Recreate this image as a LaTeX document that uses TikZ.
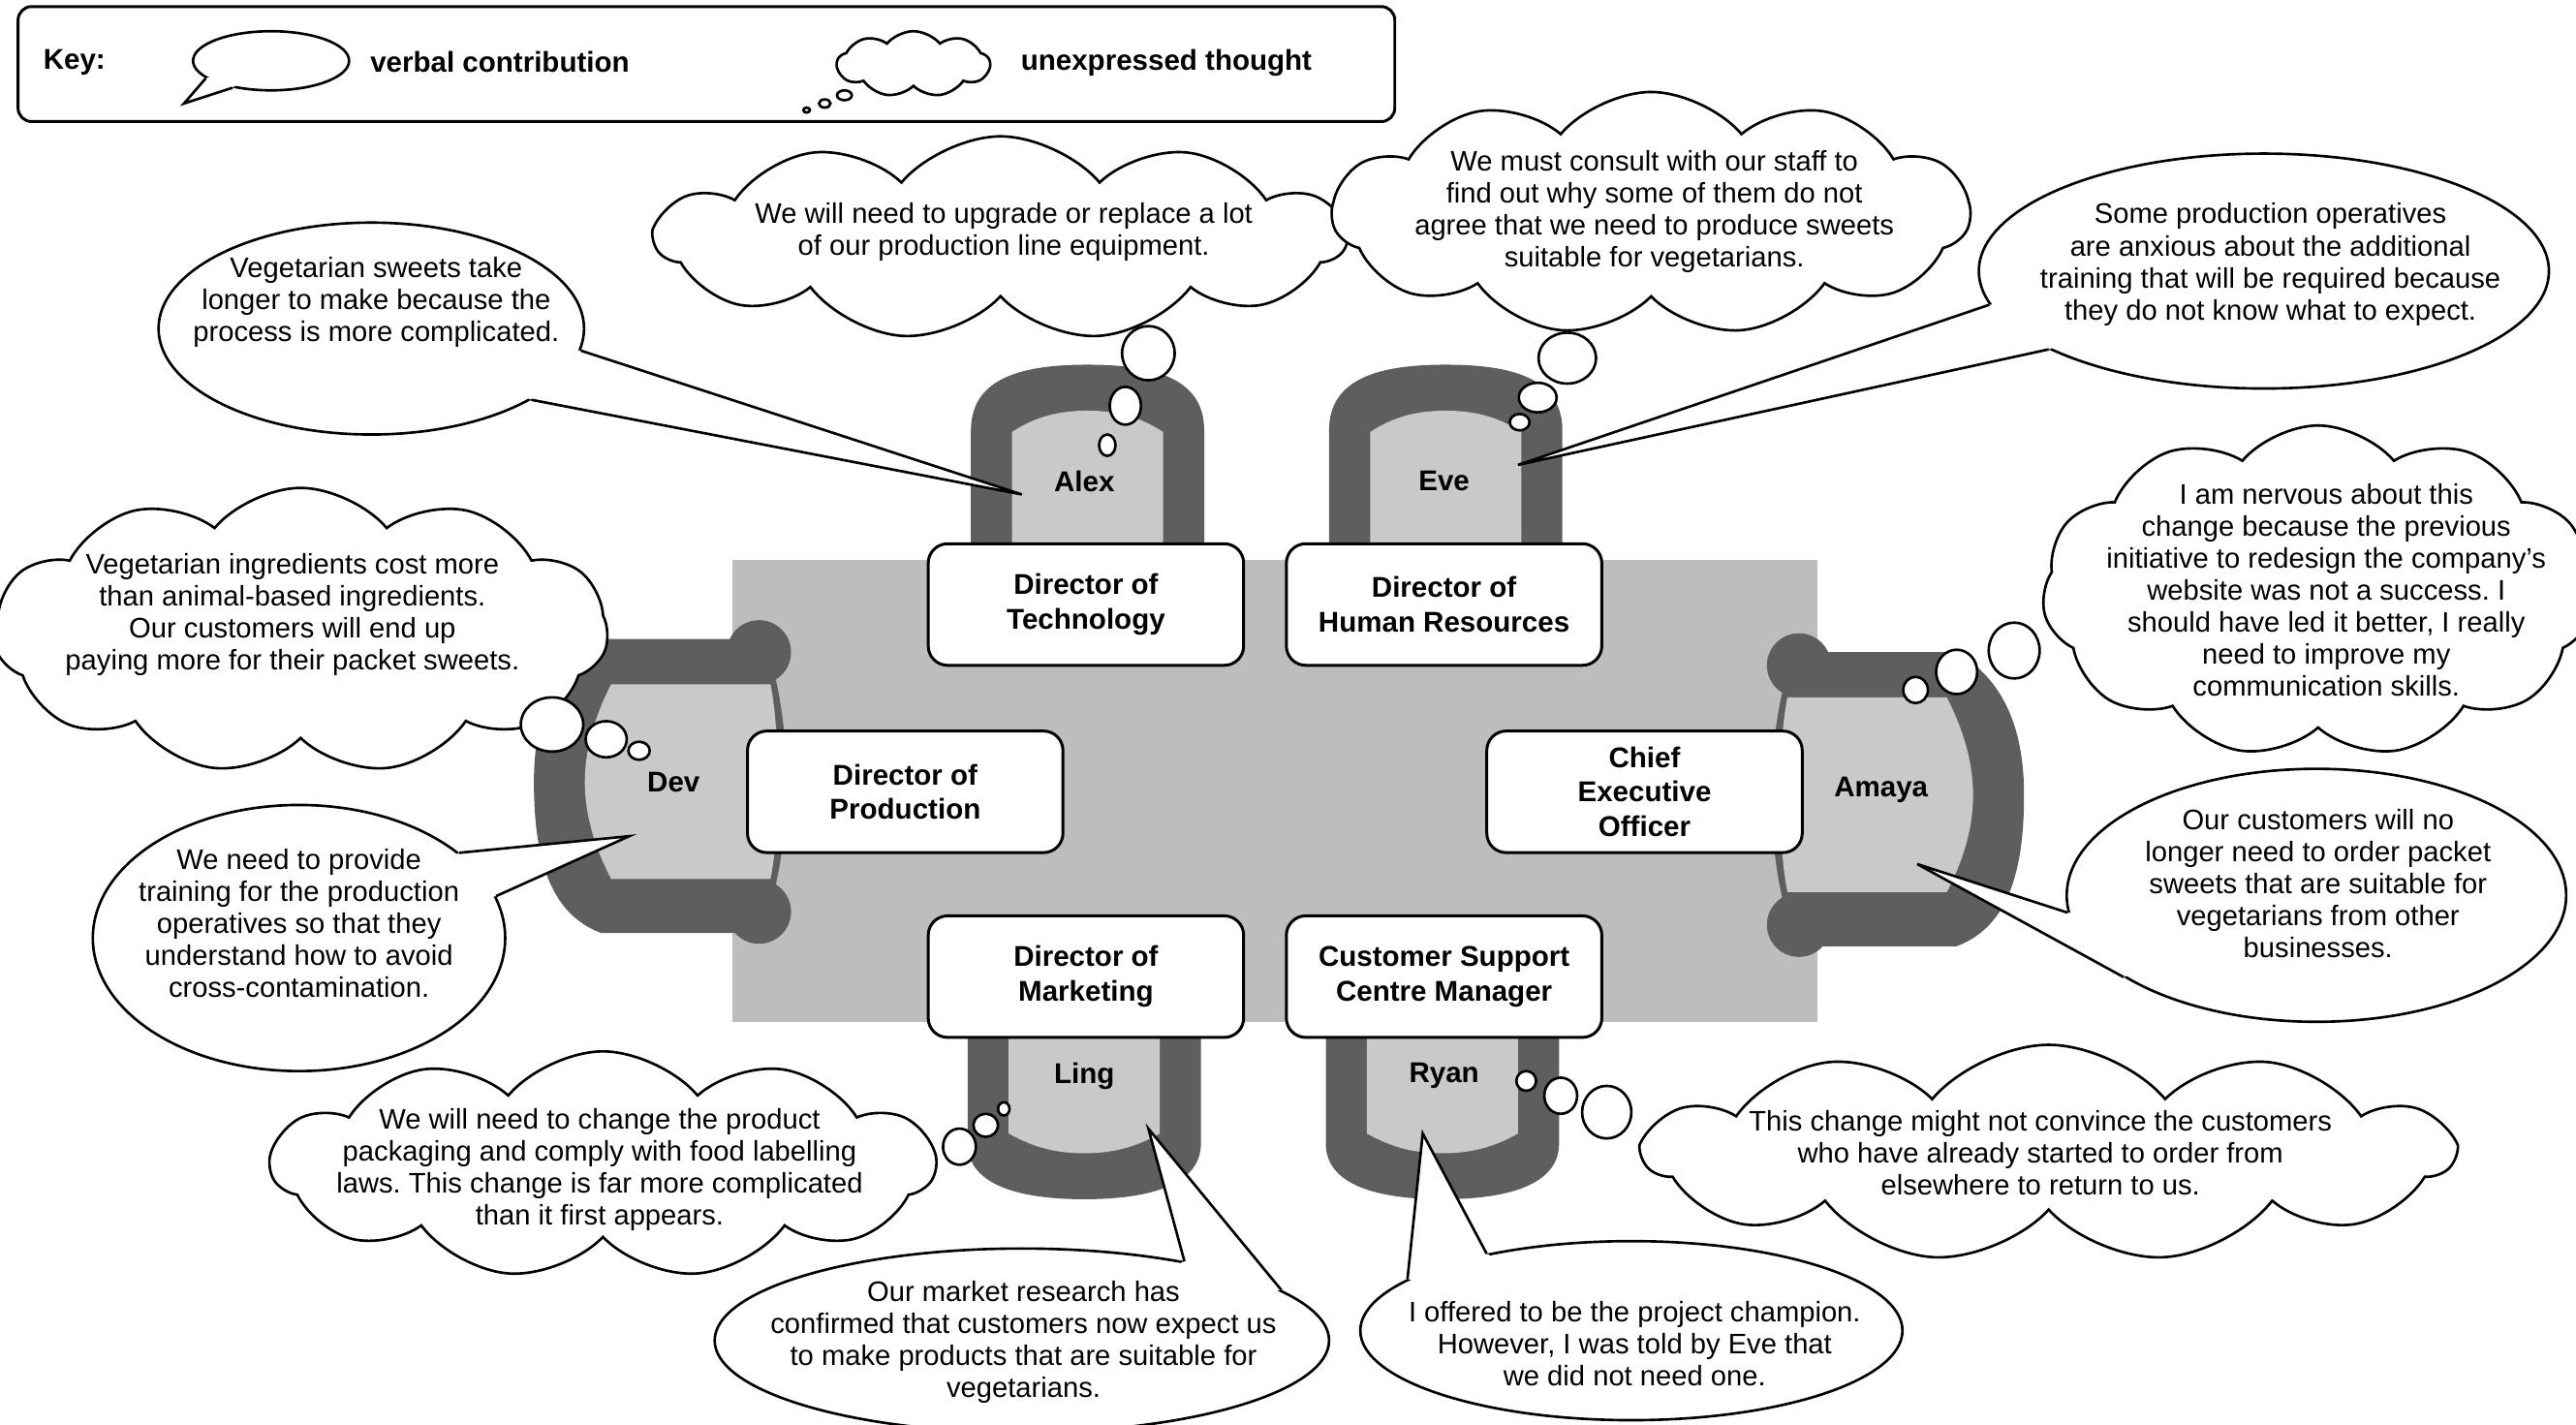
\documentclass[tikz,border=0pt]{standalone}
\usepackage{fontspec}
\setmainfont{Liberation Sans}
\usepackage{xcolor}
\usetikzlibrary{shapes.geometric,shapes.symbols}

\definecolor{tablegrey}{HTML}{BDBDBD}
\definecolor{seatgrey}{HTML}{C9C9C9}
\definecolor{framegrey}{HTML}{5E5E5E}
\newcommand{\pxu}{0.01696cm}
\frenchspacing

\tikzset{
  role/.style={draw, line width=0.85pt, fill=white, rounded corners=0.2cm,
    minimum width=192*\pxu, minimum height=74*\pxu, align=center, inner sep=0pt,
    font=\fontsize{8.4}{10.1}\selectfont\bfseries},
  who/.style={inner sep=0pt, font=\fontsize{8.4}{10.1}\selectfont\bfseries},
  say/.style={inner sep=0pt, align=center, font=\fontsize{8.3}{9.4}\selectfont},
  bubblesize/.style 2 args={minimum width=#1*\pxu, minimum height=#2*\pxu},
  speech/.style={ellipse, draw, fill=white, line width=0.75pt, inner sep=0pt},
  tail/.style={line width=0.75pt, line join=miter},
  thought/.style={cloud, draw, fill=white, line width=0.75pt, inner sep=0pt,
    cloud puffs=11, cloud puff arc=100, cloud ignores aspect},
  puff/.style={ellipse, draw, fill=white, line width=0.75pt, inner sep=0pt},
}

\begin{document}
\begin{tikzpicture}[x=\pxu, y=-\pxu]
    \useasboundingbox (0,0) rectangle (1568,867);

    % key
    \coordinate (keytip) at (112,63);
    \node[draw, line width=0.85pt, rounded corners=0.14cm, minimum width=838*\pxu,
        minimum height=70*\pxu] (keybox) at (430,39) {};
    \node[who, anchor=west] (keyword) at (26,38) {Key:};
    \node[speech, bubblesize={95}{36}] (keysay) at (165,37) {};
    \fill[white] (keysay.195) -- (keytip) -- (keysay.215) -- (keysay.center) -- cycle;
    \draw[tail] (keysay.195) -- (keytip) -- (keysay.215);
    \node[who, anchor=west] (keysaytext) at (225,38) {verbal contribution};
    \node[thought, bubblesize={93}{40}, cloud puffs=9] (keythink) at (556,39) {};
    \node[who, anchor=west] (keythinktext) at (621,38) {unexpressed thought};

    % table and chairs
    \fill[tablegrey] (446,341) rectangle (1106,622);

    \foreach \cx in {662,880}{
        \begin{scope}[shift={(\cx,0)}]
            \fill[framegrey] (-71,360) -- (-71,262) .. controls (-71,230) and (-40,222) .. (0,222)
                .. controls (40,222) and (71,230) .. (71,262) -- (71,360) -- cycle;
            \fill[seatgrey] (-46,360) -- (-46,263) .. controls (-31,253) and (-16,250) .. (0,250)
                .. controls (16,250) and (31,253) .. (46,263) -- (46,360) -- cycle;
        \end{scope}
    }
    \foreach \cx in {660,878}{
        \begin{scope}[shift={(\cx,0)}]
            \fill[framegrey] (-71,610) -- (-71,696) .. controls (-71,722) and (-38,730) .. (0,730)
                .. controls (38,730) and (71,722) .. (71,696) -- (71,610) -- cycle;
            \fill[seatgrey] (-46,610) -- (-46,690) .. controls (-30,699) and (-16,702) .. (0,702)
                .. controls (16,702) and (30,699) .. (46,690) -- (46,610) -- cycle;
        \end{scope}
    }
    \foreach \cx/\cy/\side in {462/476/-1,1095/484/1}{
        \begin{scope}[shift={(\cx,\cy)}, xscale=\side]
            \fill[framegrey] (0,-79) circle (19.5) (0,79) circle (19.5);
            \fill[framegrey] (0,-87) -- (96,-87) .. controls (125,-70) and (137,-40) .. (137,0)
                .. controls (137,45) and (128,80) .. (96,92) -- (0,92) -- (-7,75)
                .. controls (-20,30) and (-20,-30) .. (-7,-75) -- cycle;
            \fill[seatgrey] (-7,-59.5) -- (90,-59.5) .. controls (100,-40) and (106,-20) .. (106,0)
                .. controls (106,20) and (100,40) .. (90,59) -- (-7,59)
                .. controls (-13,30) and (-13,-30) .. (-7,-59.5) -- cycle;
        \end{scope}
    }

    \node[role] (tech) at (661,368) {Director of\\Technology};
    \node[role] (hr) at (879,368) {Director of\\Human Resources};
    \node[role] (prod) at (551,482) {Director of\\Production};
    \node[role] (ceo) at (1001,482) {Chief\\Executive\\Officer};
    \node[role] (mkt) at (661,594.5) {Director of\\Marketing};
    \node[role] (csc) at (879,594.5) {Customer Support\\Centre Manager};

    \node[who] (alex) at (660,293) {Alex};
    \node[who] (eve) at (879,293) {Eve};
    \node[who] (dev) at (410,476) {Dev};
    \node[who] (amaya) at (1145,481) {Amaya};
    \node[who] (ling) at (660,655) {Ling};
    \node[who] (ryan) at (879,655) {Ryan};

    \coordinate (alexmouth) at (622,301);
    \coordinate (evemouth) at (924,283);
    \coordinate (devmouth) at (383,509);
    \coordinate (amayamouth) at (1167,526);
    \coordinate (lingmouth) at (699,687);
    \coordinate (ryanmouth) at (866,690);

    % unexpressed thoughts
    \node[thought, bubblesize={420}{124}] (alexthinks) at (609,145) {};
    \node[thought, bubblesize={388}{148}] (evethinks) at (1005,130) {};
    \node[thought, bubblesize={374}{174}] (devthinks) at (183,384) {};
    \node[thought, bubblesize={336}{202}] (amayathinks) at (1411,360) {};
    \node[thought, bubblesize={404}{138}] (lingthinks) at (367,709) {};
    \node[thought, bubblesize={492}{132}] (ryanthinks) at (1247,702) {};

    \foreach \bx/\by/\bw/\bh/\bname in {
        514/58/9/6/keypuffa, 502/63/7/5/keypuffb, 491/67/4/3/keypuffc,
        699/215/32/33/alexpuffa, 685/247/19/23/alexpuffb, 674/271/10/13/alexpuffc,
        954/218/35/31/evepuffa, 936/242/23/18/evepuffb, 925/257/12/10/evepuffc,
        336/441/38/33/devpuffa, 369/450/25/22/devpuffb, 389/457/13/11/devpuffc,
        1226/396/31/34/amayapuffa, 1191/409/25/27/amayapuffb, 1166/420/15/16/amayapuffc,
        584/698/20/22/lingpuffa, 600/685/15/14/lingpuffb, 611/675/7/8/lingpuffc,
        978/677/30/32/ryanpuffa, 950/667/20/22/ryanpuffb, 929/658/12/12/ryanpuffc}{
        \node[puff, bubblesize={\bw}{\bh}] (\bname) at (\bx,\by) {};
    }

    \node[say] (alexthinkstext) at (611,141) {We will need to upgrade or replace a lot\\of our production line equipment.};
    \node[say] (evethinkstext) at (1007,129) {We must consult with our staff to\\find out why some of them do not\\agree that we need to produce sweets\\suitable for vegetarians.};
    \node[say] (devthinkstext) at (178,374) {Vegetarian ingredients cost more\\than animal-based ingredients.\\Our customers will end up\\paying more for their packet sweets.};
    \node[say] (amayathinkstext) at (1416,359) {I am nervous about this\\change because the previous\\initiative to redesign the company’s\\website was not a success. I\\should have led it better, I really\\need to improve my\\communication skills.};
    \node[say] (lingthinkstext) at (365,712) {We will need to change the product\\packaging and comply with food labelling\\laws. This change is far more complicated\\than it first appears.};
    \node[say] (ryanthinkstext) at (1242,702) {This change might not convince the customers\\who have already started to order from\\elsewhere to return to us.};

    % verbal contributions
    \node[speech, bubblesize={259}{129}] (alexsays) at (226,200) {};
    \fill[white] (alexsays.-6) -- (alexmouth) -- (alexsays.-24) -- (alexsays.center) -- cycle;
    \draw[tail] (alexsays.-6) -- (alexmouth) -- (alexsays.-24);
    \node[say] (alexsaystext) at (229,184) {Vegetarian sweets take\\longer to make because the\\process is more complicated.};

    \node[speech, bubblesize={347}{143}] (evesays) at (1378,165) {};
    \fill[white] (evesays.187) -- (evemouth) -- (evesays.200) -- (evesays.center) -- cycle;
    \draw[tail] (evesays.187) -- (evemouth) -- (evesays.200);
    \node[say] (evesaystext) at (1382,161) {Some production operatives\\are anxious about the additional\\training that will be required because\\they do not know what to expect.};

    \node[speech, bubblesize={251}{162}] (devsays) at (182,571) {};
    \fill[white] (devsays.28) -- (devmouth) -- (devsays.12) -- (devsays.center) -- cycle;
    \draw[tail] (devsays.28) -- (devmouth) -- (devsays.12);
    \node[say] (devsaystext) at (182,562) {We need to provide\\training for the production\\operatives so that they\\understand how to avoid\\cross-contamination.};

    \node[speech, bubblesize={304}{154}] (amayasays) at (1410,545) {};
    \fill[white] (amayasays.184) -- (amayamouth) -- (amayasays.203) -- (amayasays.center) -- cycle;
    \draw[tail] (amayasays.184) -- (amayamouth) -- (amayasays.203);
    \node[say] (amayasaystext) at (1411,538) {Our customers will no\\longer need to order packet\\sweets that are suitable for\\vegetarians from other\\businesses.};

    \node[speech, bubblesize={374}{112}] (lingsays) at (622,816) {};
    \fill[white] (lingsays.26) -- (lingmouth) -- (lingsays.11.5) -- (lingsays.center) -- cycle;
    \draw[tail] (lingsays.26) -- (lingmouth) -- (lingsays.11.5);
    \node[say] (lingsaystext) at (623,817) {Our market research has\\confirmed that customers now expect us\\to make products that are suitable for\\vegetarians.};

    \node[speech, bubblesize={330}{109}] (ryansays) at (993,810) {};
    \fill[white] (ryansays.167) -- (ryanmouth) -- (ryansays.152) -- (ryansays.center) -- cycle;
    \draw[tail] (ryansays.167) -- (ryanmouth) -- (ryansays.152);
    \node[say] (ryansaystext) at (995,818) {I offered to be the project champion.\\However, I was told by Eve that\\we did not need one.};

\end{tikzpicture}
\end{document}
